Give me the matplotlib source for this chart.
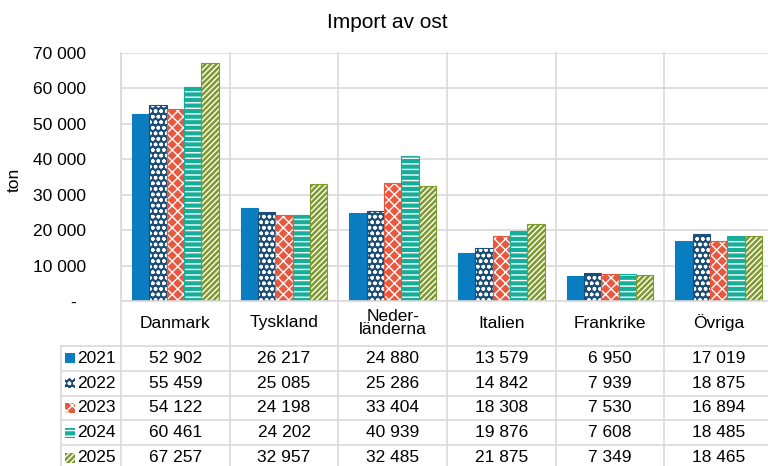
import numpy as np
import matplotlib
matplotlib.use("Agg")
import matplotlib.pyplot as plt
from matplotlib.patches import Rectangle
from matplotlib.lines import Line2D

plt.rcParams['font.family'] = ['Liberation Sans', 'DejaVu Sans']
plt.rcParams['hatch.linewidth'] = 1.0

# data
countries = ['Danmark', 'Tyskland', 'Neder-\nländerna', 'Italien', 'Frankrike', 'Övriga']
years = ['2021', '2022', '2023', '2024', '2025']
v2021 = [52902, 26217, 24880, 13579, 6950, 17019]
v2022 = [55459, 25085, 25286, 14842, 7939, 18875]
v2023 = [54122, 24198, 33404, 18308, 7530, 16894]
v2024 = [60461, 24202, 40939, 19876, 7608, 18485]
v2025 = [67257, 32957, 32485, 21875, 7349, 18465]
series = [v2021, v2022, v2023, v2024, v2025]

colors = ['#0A7DC0', '#1D4E78', '#E8573E', '#16AE98', '#7E9A2C']
hatches = [None, 'ooo', 'xxx', '---', '//////']

W, H = 768, 466
fig = plt.figure(figsize=(W / 100, H / 100), dpi=100)

def fx(px):
    return px / W

def fy(py):
    return 1 - py / H

def fmt(v):
    return f'{v:,}'.replace(',', ' ')

left, right, top, bottom = 121, 773, 53, 301
ax = fig.add_axes([fx(left), fy(bottom), fx(right) - fx(left), fy(top) - fy(bottom)])
ax.set_xlim(0, 6)
ax.set_ylim(0, 70000)

grid = '#D9D9D9'
x = np.arange(6) + 0.5
bw = 0.16
for i, vals in enumerate(series):
    pos = x + (i - 2) * bw
    ax.bar(pos, vals, bw, color=colors[i], hatch=hatches[i],
           edgecolor='white' if hatches[i] else colors[i], linewidth=0, zorder=3)
    ax.bar(pos, vals, bw, fill=False, edgecolor=colors[i], linewidth=0.8, zorder=4)

yt = np.arange(0, 70001, 10000)
ax.set_yticks(yt)
ax.set_yticklabels(['-  '] + [fmt(v) for v in yt[1:]], fontsize=12.5)
ax.tick_params(axis='y', length=0, pad=25)
ax.set_xticks([])
ax.grid(axis='y', color=grid, linewidth=1.2, zorder=0)
for s in ['top', 'right', 'bottom']:
    ax.spines[s].set_visible(False)
ax.spines['left'].set_color(grid)
fig.text(fx(14), fy(180), 'ton', rotation=90, ha='center', va='center', fontsize=12.5)

fig.text(fx(387), fy(22), 'Import av ost', ha='center', va='center', fontsize=15)

# data table below the axes
colw = (right - left) / 6
rows_y = [346 + 24.8 * k for k in range(6)]
lc = '#D9D9D9'
fig.add_artist(Line2D([fx(left), fx(right)], [fy(bottom), fy(bottom)], color=lc, lw=1.2))
for yy in rows_y:
    fig.add_artist(Line2D([fx(61), fx(right)], [fy(yy), fy(yy)], color=lc, lw=1.2))
for k in range(7):
    xx = left + k * colw
    fig.add_artist(Line2D([fx(xx), fx(xx)], [fy(top), fy(H + 10)], color=lc, lw=1.2))
fig.add_artist(Line2D([fx(61), fx(61)], [fy(346), fy(H + 10)], color=lc, lw=1.2))

for j, c in enumerate(countries):
    fig.text(fx(left + (j + 0.5) * colw), fy(323), c, ha='center', va='center',
             fontsize=12.5, linespacing=0.9)

for i, vals in enumerate(series):
    yc = (rows_y[i] + rows_y[i + 1]) / 2
    fig.add_artist(Rectangle((fx(65), fy(yc + 5)), fx(10), fy(0) - fy(10),
                             facecolor=colors[i], hatch=hatches[i],
                             edgecolor='white' if hatches[i] else colors[i], lw=0))
    fig.text(fx(77), fy(yc), years[i], ha='left', va='center', fontsize=12.5)
    for j, v in enumerate(vals):
        fig.text(fx(left + (j + 0.5) * colw), fy(yc), fmt(v),
                 ha='center', va='center', fontsize=12.5)

fig.savefig('out.png', dpi=100)
